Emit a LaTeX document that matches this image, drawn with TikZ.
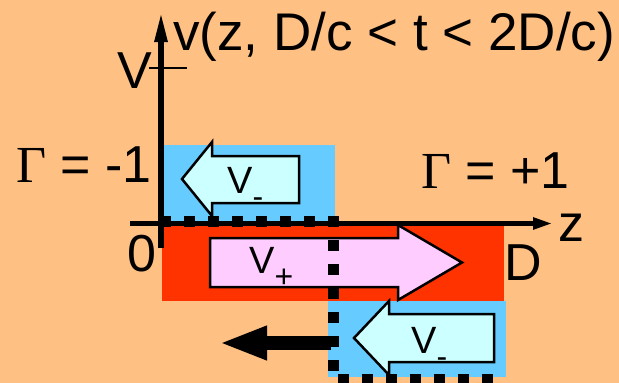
\documentclass[tikz,border=0pt]{standalone}
\usepackage{fontspec}
\setmainfont{Liberation Sans}
\newfontfamily\greekfont{Liberation Serif}
\usetikzlibrary{arrows.meta}
\definecolor{Peach}{RGB}{255,192,132}
\definecolor{Sky}{RGB}{102,204,255}
\definecolor{Hot}{RGB}{255,51,0}
\definecolor{Ice}{RGB}{204,255,255}
\definecolor{Pink}{RGB}{255,204,255}
\newcommand{\wavelbl}[1]{V\raisebox{-14pt}{\fontsize{32}{32}\selectfont#1}}

\begin{document}
\begin{tikzpicture}[x=1pt,y=-1pt,
  big/.style={font=\fontsize{52}{60}\selectfont,inner sep=0pt,anchor=base west},
  lbl/.style={font=\fontsize{38}{44}\selectfont,inner sep=0pt,anchor=base west},
  blk/.style={draw=black,line width=2.5pt,line join=miter},
  ax/.style={line width=5.5pt},
  dots/.style={line width=11pt,dash pattern=on 11pt off 13pt,dash phase=4pt}]
\useasboundingbox (0,0) rectangle (619,383);
\fill[Peach] (0,0) rectangle (619,383);
% regions
\fill[Sky] (163,145) rectangle (335,222);
\fill[Hot] (162,224) rectangle (504,301);
\fill[Sky] (328,301) rectangle (506,377);
% travelling waves
\filldraw[blk,fill=Ice] (182,179)--(212,142)--(212,156)--(299,156)--(299,203)--(212,203)--(212,216)--cycle;
\filldraw[blk,fill=Pink] (210,238)--(398,238)--(398,225)--(462,262.5)--(398,300)--(398,287)--(210,287)--cycle;
\filldraw[blk,fill=Ice] (354,338)--(389,301)--(389,314)--(494,314)--(494,362)--(389,362)--(389,375)--cycle;
% voltage profile
\coordinate (p0) at (164,221);\coordinate (p1) at (333,221);
\coordinate (p2) at (333,379);\coordinate (p3) at (506,379);
\draw[dots] (p0)--(p1)--(p2)--(p3);
% front moving back
\coordinate (fs) at (331,343);\coordinate (fe) at (219,343);
\draw[line width=14pt,-{Triangle[length=48pt,width=31pt]}] (fs)--(fe);
% axes
\coordinate (O) at (161,223.5);
\coordinate (ybot) at (161,248);\coordinate (ytop) at (161,12);
\coordinate (xl) at (130,223.5);\coordinate (xr) at (553,223.5);
\draw[ax,-{Triangle[length=30pt,width=12pt]}] (ybot)--(ytop);
\draw[ax,-{Triangle[length=20pt,width=11pt]}] (xl)--(xr);
\coordinate (t0) at (149,68);\coordinate (t1) at (187,68);
\draw[line width=2.5pt] (t0)--(t1);
% labels
\node[big,font=\fontsize{53}{60}\selectfont] (title) at (173,50) {v(z, D/c < t < 2D/c)};
\node[big] (vtick) at (117,88) {V};
\node[big] (gminus) at (16,182) {{\greekfont Γ} = -1};
\node[big] (gplus) at (421,188) {{\greekfont Γ} = +1};
\node[big] (zlab) at (558,241) {z};
\node[big] (dlab) at (504,280) {D};
\node[big] (zero) at (127,271) {0};
\node[lbl] (vm1) at (227,193) {\wavelbl{-}};
\node[lbl] (vp) at (249,273) {\wavelbl{+}};
\node[lbl] (vm2) at (411,353) {\wavelbl{-}};
\end{tikzpicture}
\end{document}
